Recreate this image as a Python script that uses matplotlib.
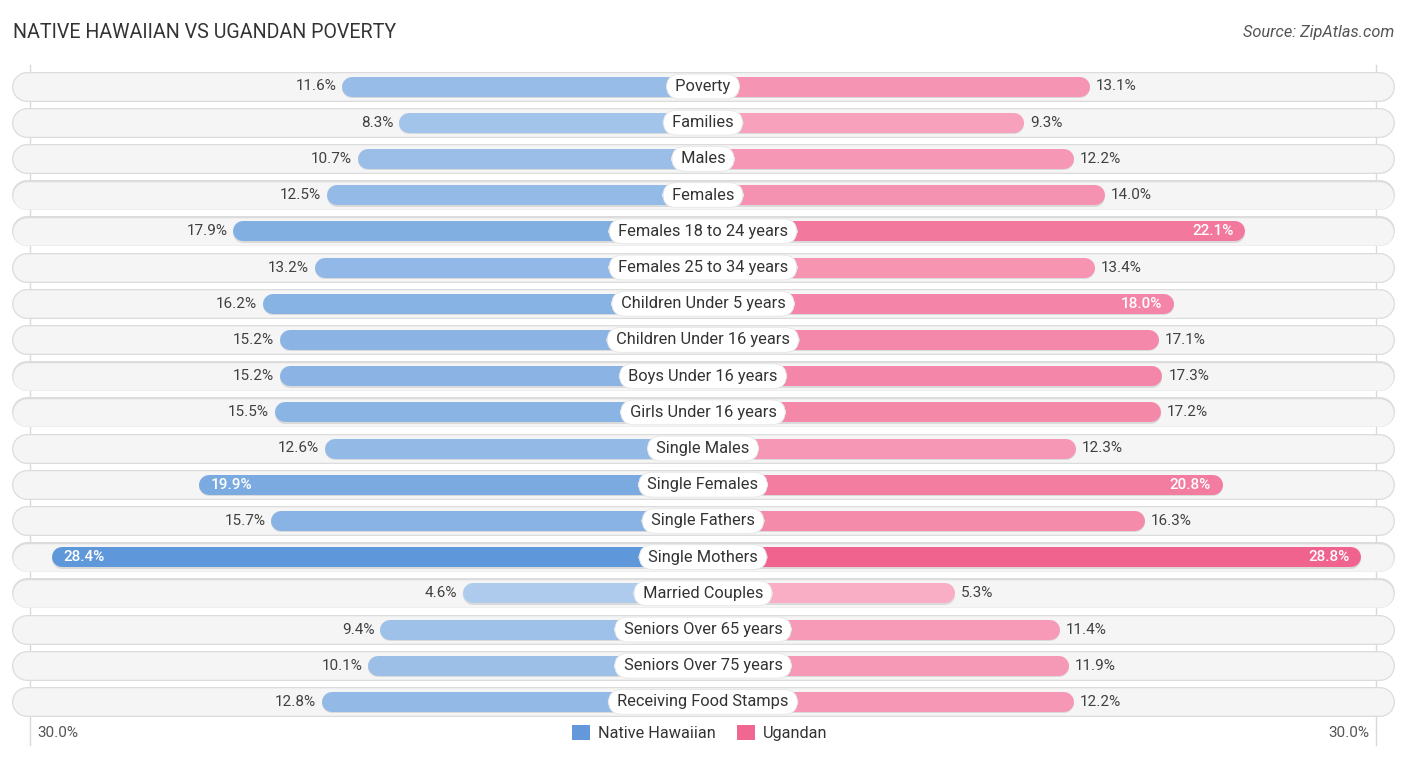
"""
Native Hawaiian vs Ugandan poverty, mirrored pill bar chart
"""

### Import modules
import numpy as np
import matplotlib.pyplot as plt
import matplotlib
from matplotlib.patches import Patch
from matplotlib.colors import to_rgb

### Data
categories = ['Poverty', 'Families', 'Males', 'Females', 'Females 18 to 24 years',
              'Females 25 to 34 years', 'Children Under 5 years',
              'Children Under 16 years', 'Boys Under 16 years',
              'Girls Under 16 years', 'Single Males', 'Single Females',
              'Single Fathers', 'Single Mothers', 'Married Couples',
              'Seniors Over 65 years', 'Seniors Over 75 years',
              'Receiving Food Stamps']
hawaiian = [11.6, 8.3, 10.7, 12.5, 17.9, 13.2, 16.2, 15.2, 15.2, 15.5, 12.6,
            19.9, 15.7, 28.4, 4.6, 9.4, 10.1, 12.8]
ugandan = [13.1, 9.3, 12.2, 14.0, 22.1, 13.4, 18.0, 17.1, 17.3, 17.2, 12.3,
           20.8, 16.3, 28.8, 5.3, 11.4, 11.9, 12.2]
series = ['Native Hawaiian', 'Ugandan']
axis_max = 30.0

### Geometry (pixels -> data units)
W, H = 1406, 758
pxu = 17.3             # pixels per percent
off = 160 / pxu        # bars start this far from the centre
row0, rowstep = 86.5, 36.2
pt = 72 / 100          # points per pixel at dpi 100

blue_lo, blue_hi = np.array(to_rgb('#b0cced')), np.array(to_rgb('#5d97da'))
pink_lo, pink_hi = np.array(to_rgb('#f9b2c8')), np.array(to_rgb('#f0628e'))

def shade(lo, hi, v):
    t = np.clip((v - 4.0) / 25.0, 0, 1)
    return tuple(lo + (hi - lo) * t)

matplotlib.rc('font', family=['Roboto', 'DejaVu Sans'])

fig = plt.figure(figsize=(W / 100, H / 100), dpi=100)
ax = fig.add_axes([0, 0, 1, 1])
ax.set_xlim(-W / 2 / pxu, W / 2 / pxu)
ax.set_ylim((H - row0) / rowstep, -row0 / rowstep)
ax.axis('off')

### Light vertical guides at +/-30%
gx = 673 / pxu
ax.plot([-gx, -gx], [(65 - row0) / rowstep, (745 - row0) / rowstep],
        color='#d9d9d9', lw=1, zorder=1)
ax.plot([gx, gx], [(65 - row0) / rowstep, (745 - row0) / rowstep],
        color='#d9d9d9', lw=1, zorder=1)

bg_half = (1393 - 12) / 2 / pxu
cap_bg = 14 / pxu
cap_bar = 10 / pxu

for i, cat in enumerate(categories):
    y = i
    # background pill
    ax.plot([-bg_half + cap_bg, bg_half - cap_bg], [y, y], color='#dcdcdc',
            lw=30 * pt, solid_capstyle='round', zorder=2)
    ax.plot([-bg_half + cap_bg, bg_half - cap_bg], [y + 0.012, y + 0.012],
            color='#f5f5f5', lw=27.5 * pt, solid_capstyle='round', zorder=2)

    hv, uv = hawaiian[i], ugandan[i]
    xl = -(off + hv)
    xr = off + uv
    ax.plot([xl + cap_bar, 0], [y + 0.04, y + 0.04], color='#c8c8c8',
            lw=20 * pt, solid_capstyle='round', zorder=3, alpha=0.6)
    ax.plot([0, xr - cap_bar], [y + 0.04, y + 0.04], color='#c8c8c8',
            lw=20 * pt, solid_capstyle='round', zorder=3, alpha=0.6)
    ax.plot([xl + cap_bar, 0], [y, y], color=shade(blue_lo, blue_hi, hv),
            lw=20 * pt, solid_capstyle='round', zorder=4)
    ax.plot([0, xr - cap_bar], [y, y], color=shade(pink_lo, pink_hi, uv),
            lw=20 * pt, solid_capstyle='round', zorder=4)

    # value labels
    if hv >= 18:
        ax.text(xl + 12 / pxu, y, '%.1f%%' % hv, ha='left', va='center',
                fontsize=11, color='white', fontweight='medium', zorder=6)
    else:
        ax.text(xl - 6 / pxu, y, '%.1f%%' % hv, ha='right', va='center',
                fontsize=11, color='#404040', zorder=6)
    if uv >= 18:
        ax.text(xr - 12 / pxu, y, '%.1f%%' % uv, ha='right', va='center',
                fontsize=11, color='white', fontweight='medium', zorder=6)
    else:
        ax.text(xr + 6 / pxu, y, '%.1f%%' % uv, ha='left', va='center',
                fontsize=11, color='#404040', zorder=6)

    # category label
    ax.text(0, y, ' ' + cat + ' ', ha='center', va='center', fontsize=11.8,
            color='#333333', zorder=7,
            bbox=dict(boxstyle='round,pad=0.3,rounding_size=0.85',
                      fc='white', ec='#e6e6e6', lw=0.6))

### Title and source
fig.text(13 / W, 1 - 33 / H, 'NATIVE HAWAIIAN VS UGANDAN POVERTY',
         ha='left', va='center', fontsize=14.1, color='#333333')
fig.text(1394 / W, 1 - 33 / H, 'Source: ZipAtlas.com', ha='right',
         va='center', fontsize=11.8, color='#555555', style='italic')

### Axis end labels
fig.text(37 / W, 1 - 733 / H, '%.1f%%' % axis_max, ha='left', va='center',
         fontsize=11, color='#555555')
fig.text(1369 / W, 1 - 733 / H, '%.1f%%' % axis_max, ha='right', va='center',
         fontsize=11, color='#555555')

### Legend
handles = [Patch(facecolor='#6399db', edgecolor='none', label=series[0]),
           Patch(facecolor='#f06792', edgecolor='none', label=series[1])]
l = fig.legend(handles=handles, loc='center', bbox_to_anchor=(700 / W, 1 - 733 / H),
               ncol=2, frameon=False, fontsize=11.7, handlelength=1.1,
               handleheight=1.1, handletextpad=0.5, columnspacing=1.3)
for text in l.get_texts():
    text.set_color('#333333')

plt.savefig('out.png', dpi=100, facecolor='white')
